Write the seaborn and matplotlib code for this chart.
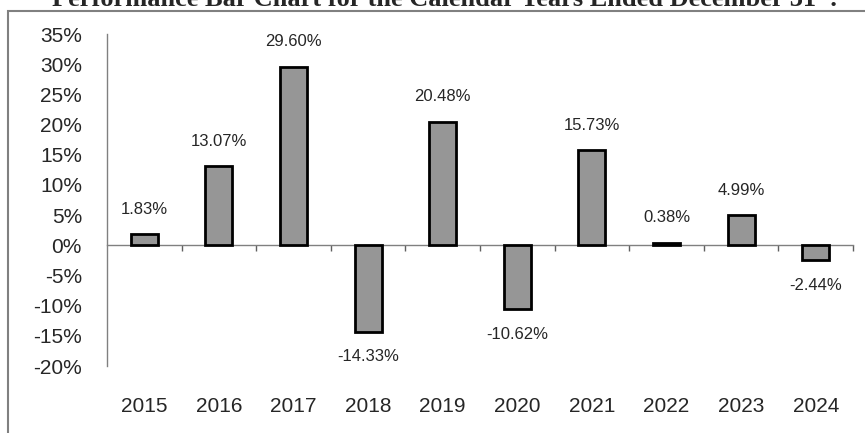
import matplotlib
matplotlib.use("Agg")
import matplotlib.pyplot as plt
import matplotlib.patches as mpatches
import pandas as pd
import seaborn as sns
from matplotlib.ticker import FuncFormatter

# ── Data ───────────────────────────────────────────────────────────────────────
years   = ["2015", "2016", "2017", "2018", "2019", "2020", "2021", "2022", "2023", "2024"]
returns = [1.83, 13.07, 29.60, -14.33, 20.48, -10.62, 15.73, 0.38, 4.99, -2.44]
y_ticks = [-20, -15, -10, -5, 0, 5, 10, 15, 20, 25, 30, 35]
title   = "Performance Bar Chart for the Calendar Years Ended December 31*:"

df = pd.DataFrame({"Year": years, "Return": returns})

sns.set_style("white")
plt.rcParams["font.family"] = ["Liberation Sans", "DejaVu Sans"]

W, H = 865, 433
fig = plt.figure(figsize=(W / 100, H / 100), dpi=100)
ax = fig.add_axes([107 / W, (H - 366) / H, (853 - 107) / W, (366 - 34) / H])

sns.barplot(
    data=df, x="Year", y="Return", order=years,
    color="#969696", edgecolor="black", linewidth=2.0,
    width=0.36, saturation=1, ax=ax,
)

ax.set_ylim(-20, 35)
ax.set_xlim(-0.5, len(years) - 0.5)
ax.set_yticks(y_ticks)
ax.yaxis.set_major_formatter(FuncFormatter(lambda v, _: f"{v:.0f}%"))
ax.set_xlabel("")
ax.set_ylabel("")

for side in ["top", "right", "bottom"]:
    ax.spines[side].set_visible(False)
ax.spines["left"].set_color("#808080")
ax.spines["left"].set_linewidth(1.0)

ax.tick_params(axis="y", direction="in", length=5, width=1, color="#808080",
               labelsize=15, pad=18)
ax.tick_params(axis="x", length=0, labelsize=15, pad=22)

# zero line with category-boundary ticks
zero_ax = ax.secondary_xaxis(20 / 55)
zero_ax.set_xticks([i + 0.5 for i in range(len(years))])
zero_ax.set_xticklabels([])
zero_ax.tick_params(direction="out", length=4, width=1, color="#606060")
zero_ax.spines["bottom"].set_color("#808080")
zero_ax.spines["bottom"].set_linewidth(1.0)

# value labels
for i, v in enumerate(returns):
    off = 18 if v >= 0 else -18
    ax.annotate(f"{v:.2f}%", (i, v), xytext=(0, off), textcoords="offset points",
                ha="center", va="center", fontsize=12)

# outer frame and title (title is cut by the top edge, as in the source)
fig.add_artist(mpatches.Rectangle((8 / W, -0.1), 1.2, 1.1 - 11 / H,
                                  transform=fig.transFigure, fill=False,
                                  edgecolor="#808080", linewidth=1.5))
fig.text(445 / W, 1 - 6 / H, title, ha="center", va="baseline",
         fontsize=19, fontweight="bold", family=["Liberation Serif", "DejaVu Serif"])

fig.savefig("out.png", dpi=100)
